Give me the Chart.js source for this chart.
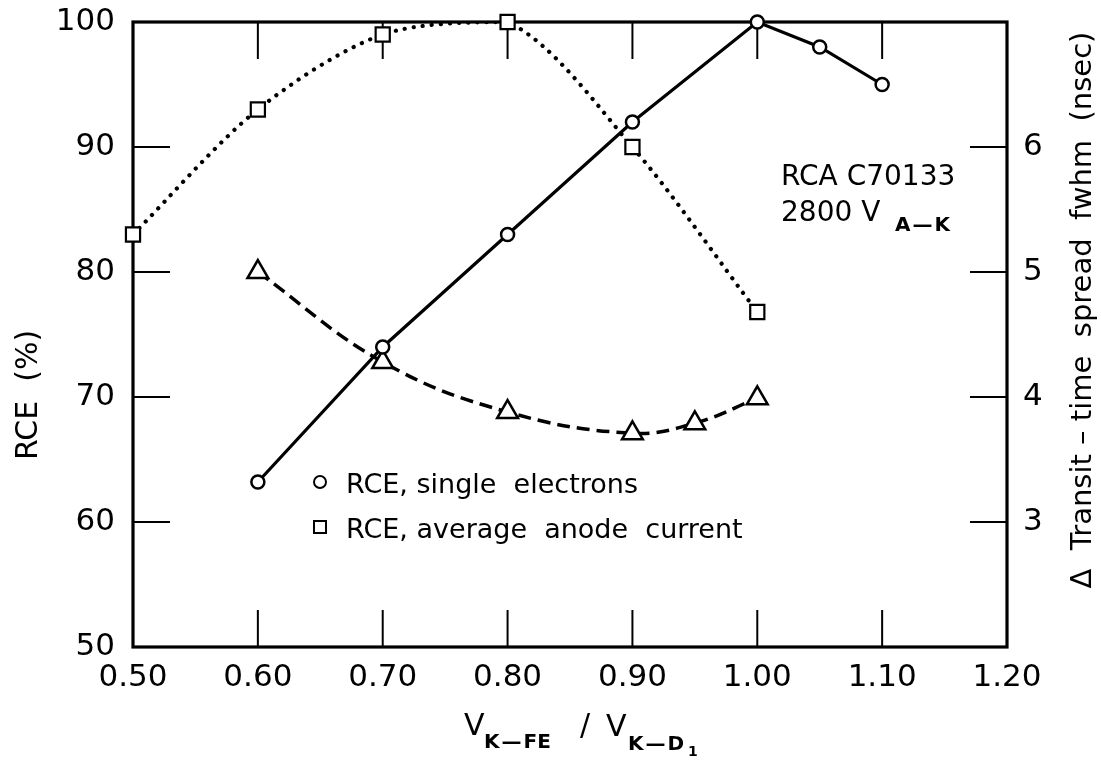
<!DOCTYPE html>
<html>
<head>
<meta charset="utf-8">
<script src="https://cdn.jsdelivr.net/npm/chart.js@4.4.1/dist/chart.umd.min.js"></script>
<style>
  html, body { margin: 0; padding: 0; background: #fff; }
  #wrap { width: 1101px; height: 763px; position: relative; }
</style>
</head>
<body>
<div id="wrap"><canvas id="c"></canvas></div>
<script>
// ---- data ----
const xTickLabels = ['0.50','0.60','0.70','0.80','0.90','1.00','1.10','1.20'];
const leftTickLabels = ['50','60','70','80','90','100'];
const rightTickLabels = ['3','4','5','6'];

const singleX = [0.60, 0.70, 0.80, 0.90, 1.00, 1.05, 1.10];
const singleRCE = [63.2, 74.0, 83.0, 92.0, 100.0, 98.0, 95.0];

const anodeX = [0.50, 0.60, 0.70, 0.80, 0.90, 1.00];
const anodeRCE = [83.0, 93.0, 99.0, 100.0, 90.0, 76.8];

const ttsX = [0.60, 0.70, 0.80, 0.90, 0.95, 1.00];
const ttsFwhm = [5.0, 4.28, 3.88, 3.71, 3.79, 3.99];

const FONT = '"DejaVu Sans", "Liberation Sans", sans-serif';

const pts = (xs, ys) => xs.map((v, i) => ({ x: v, y: ys[i] }));

const decor = {
  id: 'decor',
  beforeDatasetsDraw(chart) {
    const { ctx, chartArea: a, scales } = chart;
    const x = scales.x, y = scales.y, y2 = scales.y2;
    ctx.save();
    ctx.strokeStyle = '#000';
    ctx.lineCap = 'butt';
    const L = 37;
    const seg = (x1, y1, x2, y2_) => { ctx.beginPath(); ctx.moveTo(x1, y1); ctx.lineTo(x2, y2_); ctx.stroke(); };
    ctx.lineWidth = 2;
    xTickLabels.slice(1, -1).forEach(t => {
      const px = x.getPixelForValue(parseFloat(t));
      seg(px, a.bottom, px, a.bottom - L);
      seg(px, a.top, px, a.top + L);
    });
    leftTickLabels.slice(1, -1).forEach(t => {
      const py = y.getPixelForValue(parseFloat(t));
      seg(a.left, py, a.left + L, py);
    });
    rightTickLabels.forEach(t => {
      const py = y2.getPixelForValue(parseFloat(t));
      seg(a.right, py, a.right - L, py);
    });
    ctx.lineWidth = 3.2;
    ctx.strokeRect(a.left, a.top, a.right - a.left, a.bottom - a.top);
    ctx.restore();
  },
  afterDraw(chart) {
    const { ctx } = chart;
    ctx.save();
    ctx.fillStyle = '#000';
    ctx.strokeStyle = '#000';
    ctx.textBaseline = 'alphabetic';
    ctx.textAlign = 'left';

    // left axis title
    ctx.save();
    ctx.translate(37, 395);
    ctx.rotate(-Math.PI / 2);
    ctx.textAlign = 'center';
    ctx.font = '30px ' + FONT;
    ctx.fillText('RCE  (%)', 0, 0);
    ctx.restore();

    // right axis title
    ctx.save();
    ctx.translate(1091, 310);
    ctx.rotate(-Math.PI / 2);
    ctx.textAlign = 'center';
    ctx.font = '29px ' + FONT;
    ctx.fillText('\u0394  Transit \u2013 time  spread  fwhm  (nsec)', 0, 0);
    ctx.restore();

    // x axis title with subscripts
    const sub = 'bold 20px ' + FONT;
    ctx.font = '30px ' + FONT;
    ctx.fillText('V', 464, 735);
    ctx.font = sub;
    ctx.fillText('K\u200A\u2014\u200AFE', 484, 748);
    ctx.font = '30px ' + FONT;
    ctx.fillText('/', 580, 735);
    ctx.fillText('V', 606, 736);
    ctx.font = sub;
    ctx.fillText('K\u200A\u2014\u200AD', 628, 750);
    ctx.font = 'bold 14px ' + FONT;
    ctx.fillText('1', 688, 756);

    // annotation
    ctx.font = '28px ' + FONT;
    ctx.fillText('RCA C70133', 781, 185);
    ctx.fillText('2800 V', 781, 221);
    ctx.font = sub;
    ctx.fillText('A\u200A\u2014\u200AK', 895, 231);

    // legend
    ctx.lineWidth = 2;
    ctx.beginPath(); ctx.arc(320, 482, 6, 0, Math.PI * 2); ctx.stroke();
    ctx.strokeRect(314, 521, 12, 12);
    ctx.font = '27px ' + FONT;
    ctx.fillText('RCE, single  electrons', 346, 493);
    ctx.fillText('RCE, average  anode  current', 346, 538);
    ctx.restore();
  }
};

const noPad = (s) => { s.paddingTop = 0; s.paddingBottom = 0; s.paddingLeft = 0; s.paddingRight = 0; };

new Chart(document.getElementById('c'), {
  type: 'scatter',
  data: {
    datasets: [
      { // circles markers + solid line
        data: pts(singleX, singleRCE), yAxisID: 'y', showLine: true,
        borderColor: '#000', borderWidth: 3.2, tension: 0,
        pointStyle: 'circle', pointRadius: 6.5, pointBorderWidth: 2.5,
        pointBackgroundColor: '#fff', pointBorderColor: '#000', clip: false
      },
      { // square markers
        data: pts(anodeX, anodeRCE), yAxisID: 'y', showLine: false,
        pointStyle: 'rect', pointRadius: 10, pointBorderWidth: 2.2,
        pointBackgroundColor: '#fff', pointBorderColor: '#000', clip: false
      },
      { // triangle markers + dashed curve
        data: pts(ttsX, ttsFwhm), yAxisID: 'y2', showLine: true,
        borderColor: '#000', borderWidth: 3.5, borderDash: [13, 7], tension: 0.4,
        pointStyle: 'triangle', pointRadius: 12, pointBorderWidth: 2.5,
        pointBackgroundColor: '#fff', pointBorderColor: '#000', clip: false
      },
      { // dotted curve through squares
        data: pts(anodeX, anodeRCE), yAxisID: 'y', showLine: true,
        borderColor: '#000', borderWidth: 4.2, borderDash: [0.1, 9], borderCapStyle: 'round',
        tension: 0.3, pointRadius: 0
      }
    ]
  },
  options: {
    responsive: true, maintainAspectRatio: false, animation: false,
    layout: { padding: { top: 22, left: 0, right: 0, bottom: 0 } },
    plugins: { legend: { display: false }, tooltip: { enabled: false } },
    scales: {
      x: {
        type: 'linear', min: 0.5, max: 1.2,
        afterFit(s) { s.height = 116; noPad(s); },
        afterBuildTicks(s) { s.ticks = xTickLabels.map(t => ({ value: parseFloat(t) })); },
        grid: { display: false, drawTicks: false }, border: { display: false },
        ticks: { color: '#000', font: { family: FONT, size: 31 }, padding: 12,
          callback: (v) => xTickLabels.find(t => Math.abs(parseFloat(t) - v) < 1e-6) || '' }
      },
      y: {
        type: 'linear', position: 'left', min: 50, max: 100,
        afterFit(s) { s.width = 133; noPad(s); },
        afterBuildTicks(s) { s.ticks = leftTickLabels.map(t => ({ value: parseFloat(t) })); },
        grid: { display: false, drawTicks: false }, border: { display: false },
        ticks: { color: '#000', font: { family: FONT, size: 31 }, padding: 18 }
      },
      y2: {
        type: 'linear', position: 'right', min: 2, max: 7,
        afterFit(s) { s.width = 94; noPad(s); },
        afterBuildTicks(s) { s.ticks = rightTickLabels.map(t => ({ value: parseFloat(t) })); },
        grid: { display: false, drawTicks: false }, border: { display: false },
        ticks: { color: '#000', font: { family: FONT, size: 31 }, padding: 16 }
      }
    }
  },
  plugins: [decor]
});
</script>
</body>
</html>
